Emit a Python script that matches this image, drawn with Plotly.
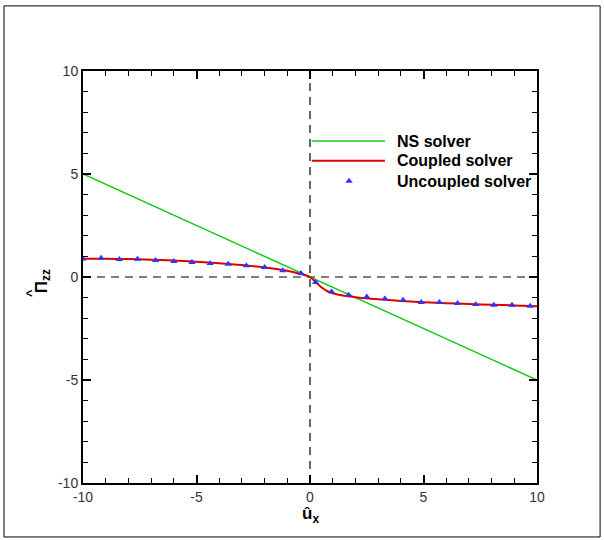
import plotly.graph_objects as go

# NS solver (linear)
ns_x = [-10, 10]
ns_y = [5.0, -5.0]

# Coupled solver
cp_x = [-10, -9, -8, -7, -6, -5, -4, -3, -2, -1.5, -1, -0.5, 0, 0.25, 0.5, 0.75, 1, 1.5, 2, 3, 4, 5, 6, 7, 8, 9, 10]
cp_y = [0.88, 0.88, 0.87, 0.84, 0.80, 0.74, 0.67, 0.58, 0.46, 0.39, 0.30, 0.17, 0.0, -0.25, -0.50, -0.68, -0.79,
        -0.91, -0.98, -1.08, -1.16, -1.22, -1.27, -1.31, -1.35, -1.38, -1.42]

# Uncoupled solver
uc_x = [-10, -9.2, -8.4, -7.6, -6.8, -6.0, -5.2, -4.4, -3.6, -2.8, -2.0, -1.2, -0.4, 0.25, 0.95, 1.7, 2.5,
        3.3, 4.1, 4.9, 5.7, 6.5, 7.3, 8.1, 8.9, 9.7]
uc_y = [0.88, 0.92, 0.86, 0.87, 0.81, 0.76, 0.71, 0.66, 0.63, 0.55, 0.47, 0.31, 0.18, -0.26, -0.71, -0.87, -0.96,
        -1.05, -1.12, -1.23, -1.23, -1.28, -1.33, -1.36, -1.36, -1.41]

legend_names = ["NS solver", "Coupled solver", "Uncoupled solver"]
tick_vals = [-10, -5, 0, 5, 10]
tick_text = ["-10", "-5", "0", "5", "10"]

GREEN = "#11cc11"
RED = "#dd0000"
BLUE = "#3333ff"
FONT = "Liberation Sans, Arial, sans-serif"

fig = go.Figure()
# dashed reference lines at zero
fig.add_trace(go.Scatter(x=[-10, 10], y=[0, 0], mode="lines",
                         line=dict(color="black", width=1.2, dash="8px,6px"), showlegend=False, hoverinfo="skip"))
fig.add_trace(go.Scatter(x=[0, 0], y=[-10, 10], mode="lines",
                         line=dict(color="black", width=1.2, dash="8px,6px"), showlegend=False, hoverinfo="skip"))
fig.add_trace(go.Scatter(x=ns_x, y=ns_y, mode="lines", line=dict(color=GREEN, width=1.5), name=legend_names[0],
                         showlegend=False))
fig.add_trace(go.Scatter(x=cp_x, y=cp_y, mode="lines", line=dict(color=RED, width=2, shape="spline"),
                         name=legend_names[1], showlegend=False))
fig.add_trace(go.Scatter(x=uc_x, y=uc_y, mode="markers", marker=dict(symbol="triangle-up", size=6.5, color=BLUE),
                         name=legend_names[2], showlegend=False))

# mirrored axes (top/right) for ticks
fig.add_trace(go.Scatter(x=[None], y=[None], xaxis="x2", yaxis="y2", showlegend=False))

tick_font = dict(family=FONT, size=14, color="#333333")
common = dict(range=[-10, 10], dtick=5, ticks="inside", ticklen=8, tickwidth=1.5, tickcolor="black",
              showline=True, linecolor="black", linewidth=2, showgrid=False, zeroline=False,
              minor=dict(dtick=1, ticks="inside", ticklen=5, tickwidth=1, tickcolor="black"))

fig.update_layout(
    width=604, height=540,
    margin=dict(l=83, r=67, t=71, b=57),
    paper_bgcolor="white", plot_bgcolor="white",
    xaxis=dict(**common, tickfont=tick_font, tickvals=tick_vals, ticktext=tick_text),
    yaxis=dict(**common, tickfont=tick_font, tickvals=tick_vals, ticktext=tick_text),
    xaxis2=dict(**common, overlaying="x", side="top", showticklabels=False),
    yaxis2=dict(**common, overlaying="y", side="right", showticklabels=False),
    showlegend=False,
)

# outer frame
fig.add_shape(type="rect", xref="paper", yref="paper", x0=-0.174, x1=1.139, y0=-0.131, y1=1.158,
              line=dict(color="black", width=1), layer="below")

# custom legend (positions in axis-domain fractions)
leg_y = [0.830, 0.782, 0.733]
for i, (nm, col) in enumerate(zip(legend_names, [GREEN, RED, None])):
    if col is not None:
        fig.add_shape(type="line", xref="x domain", yref="y domain", x0=0.504, x1=0.665, y0=leg_y[i], y1=leg_y[i],
                      line=dict(color=col, width=2 if i == 1 else 1.5))
    fig.add_annotation(xref="x domain", yref="y domain", x=0.688, y=leg_y[i], text="<b>%s</b>" % nm, showarrow=False,
                       xanchor="left", yanchor="middle", font=dict(family=FONT, size=16, color="black"))
fig.add_trace(go.Scatter(x=[1.72], y=[4.66], mode="markers", marker=dict(symbol="triangle-up", size=6.5, color=BLUE),
                         showlegend=False, hoverinfo="skip"))

# axis titles
fig.add_annotation(xref="paper", yref="paper", x=0.5, y=-0.078, text="<b>û<sub>x</sub></b>", showarrow=False,
                   xanchor="center", yanchor="middle", font=dict(family=FONT, size=17, color="black"))
fig.add_annotation(xref="paper", yref="paper", x=-0.088, y=0.49, text="<b>Π<sub>zz</sub></b>", showarrow=False,
                   textangle=-90, xanchor="center", yanchor="middle", font=dict(family=FONT, size=17, color="black"))
fig.add_annotation(xref="paper", yref="paper", x=-0.116, y=0.462, text="<b>^</b>", showarrow=False,
                   textangle=-90, xanchor="center", yanchor="middle", font=dict(family=FONT, size=13, color="black"))

fig.write_html("out.html")
